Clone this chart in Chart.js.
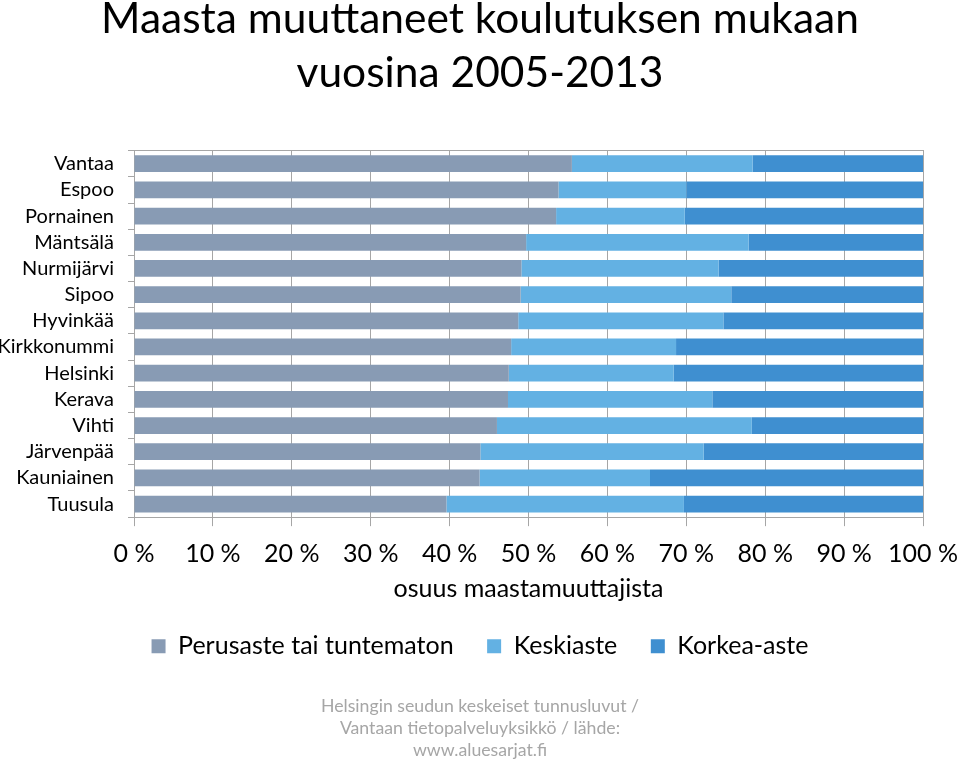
<!DOCTYPE html>
<html>
<head>
<meta charset="utf-8">
<script src="https://cdn.jsdelivr.net/npm/chart.js@4.4.0/dist/chart.umd.min.js"></script>
<style>
  html, body { margin: 0; padding: 0; background: #fff; }
</style>
</head>
<body>
<canvas id="chart" width="960" height="759"></canvas>
<script>
const municipalities = ["Vantaa", "Espoo", "Pornainen", "Mäntsälä", "Nurmijärvi", "Sipoo", "Hyvinkää",
  "Kirkkonummi", "Helsinki", "Kerava", "Vihti", "Järvenpää", "Kauniainen", "Tuusula"];
const perusaste = [55.5, 53.8, 53.5, 49.7, 49.1, 49.0, 48.7, 47.8, 47.5, 47.4, 46.0, 43.9, 43.8, 39.6];
const keskiaste = [22.9, 16.2, 16.3, 28.2, 25.0, 26.7, 26.0, 20.9, 20.9, 25.9, 32.3, 28.3, 21.6, 30.1];
const korkeaaste = [21.6, 30.0, 30.2, 22.1, 25.9, 24.3, 25.3, 31.3, 31.6, 26.7, 21.7, 27.8, 34.6, 30.3];
const seriesNames = ["Perusaste tai tuntematon", "Keskiaste", "Korkea-aste"];
const titleLines = ["Maasta muuttaneet koulutuksen mukaan", "vuosina 2005-2013"];
const sourceLines = ["Helsingin seudun keskeiset tunnusluvut /", "Vantaan tietopalveluyksikkö / lähde:", "www.aluesarjat.fi"];

Chart.defaults.font.family = "Lato, 'Open Sans', sans-serif";
Chart.defaults.color = "#000";

const gridColor = "#a6a6a6";

new Chart(document.getElementById("chart").getContext("2d"), {
  type: "bar",
  data: {
    labels: municipalities,
    datasets: [
      { label: seriesNames[0], data: perusaste, backgroundColor: "#889bb4" },
      { label: seriesNames[1], data: keskiaste, backgroundColor: "#63b1e3" },
      { label: seriesNames[2], data: korkeaaste, backgroundColor: "#3f8fd0" }
    ]
  },
  options: {
    indexAxis: "y",
    responsive: false,
    animation: false,
    barPercentage: 0.64,
    categoryPercentage: 1,
    layout: { padding: { left: 0, right: 0, top: 0, bottom: -2 } },
    scales: {
      x: {
        stacked: true,
        min: 0,
        max: 100,
        ticks: { stepSize: 10, callback: v => v + " %", font: { size: 25 }, padding: 12.5 },
        grid: { color: gridColor, tickLength: 9 },
        border: { color: gridColor },
        title: { display: true, text: "osuus maastamuuttajista", font: { size: 25 }, padding: { top: -7, bottom: -4 } },
        afterFit: scale => { scale.paddingLeft = 0; scale.paddingRight = 37; }
      },
      // top edge line of the plot area
      xTop: {
        position: "top",
        min: 0,
        max: 100,
        ticks: { display: false },
        grid: { drawOnChartArea: false, drawTicks: false },
        border: { color: gridColor },
        afterFit: scale => { scale.height = 0; scale.paddingLeft = 0; scale.paddingRight = 37; }
      },
      y: {
        stacked: true,
        ticks: { font: { size: 20 }, padding: 14, autoSkip: false },
        grid: { drawOnChartArea: false, offset: true, tickLength: 6, color: gridColor },
        border: { color: gridColor },
        afterFit: scale => { scale.width = 134; }
      }
    },
    plugins: {
      title: {
        display: true,
        text: titleLines,
        font: { size: 42.5, weight: "normal", lineHeight: 1.27 },
        padding: { top: -8, bottom: 50.7 }
      },
      legend: {
        position: "bottom",
        labels: { boxWidth: 14, boxHeight: 14, font: { size: 25 }, padding: 33.5 }
      },
      subtitle: {
        display: true,
        position: "bottom",
        text: sourceLines,
        color: "#a6a6a6",
        font: { size: 17.7, lineHeight: 1.24 },
        padding: { top: 26.5, bottom: 0 }
      },
      tooltip: { enabled: false }
    }
  }
});
</script>
</body>
</html>
